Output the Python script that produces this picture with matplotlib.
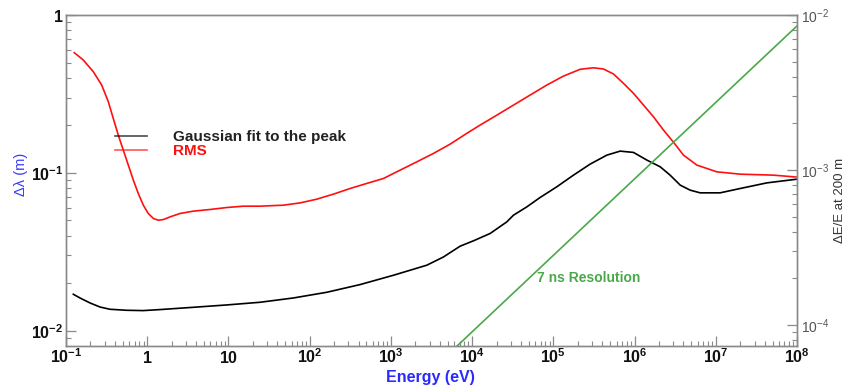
import matplotlib
matplotlib.use("Agg")
import matplotlib.pyplot as plt
from matplotlib.ticker import FixedLocator, LogLocator, FuncFormatter, NullFormatter
import numpy as np

plt.rcParams['font.family'] = ['Liberation Sans', 'DejaVu Sans']
plt.rcParams['mathtext.fontset'] = 'custom'
plt.rcParams['mathtext.rm'] = 'Liberation Sans'
plt.rcParams['mathtext.bf'] = 'Liberation Sans:bold'

# RMS width of the peak (m) vs energy (eV)
rms_energy = [0.1265, 0.163, 0.217, 0.275, 0.332, 0.382, 0.441, 0.508, 0.585, 0.675,
              0.776, 0.895, 1.03, 1.19, 1.37, 1.58, 1.91, 2.54, 3.70, 5.93,
              9.53, 15.2, 24.5, 47.4, 76.2, 122, 196, 315, 505, 809,
              1298, 2084, 3337, 5358, 8610, 12540, 20140, 32270, 51800, 83200,
              133000, 214000, 312000, 414000, 550000, 730000, 970000, 1.29e6, 1.71e6, 2.27e6,
              3.01e6, 4.0e6, 5.85e6, 1.03e7, 2.0e7, 5.14e7, 1e8]
rms_width = [0.577, 0.519, 0.437, 0.360, 0.282, 0.221, 0.173, 0.139, 0.112, 0.0899,
             0.074, 0.0624, 0.0553, 0.0514, 0.0501, 0.0506, 0.0526, 0.0553, 0.0572, 0.0586,
             0.0603, 0.0615, 0.0615, 0.0624, 0.0645, 0.0681, 0.0733, 0.0796, 0.0857, 0.0921,
             0.104, 0.1174, 0.1327, 0.152, 0.178, 0.2007, 0.232, 0.2686, 0.311, 0.360,
             0.410, 0.453, 0.463, 0.455, 0.423, 0.369, 0.319, 0.2686, 0.2265, 0.1866,
             0.1566, 0.1295, 0.112, 0.1015, 0.0981, 0.0967, 0.094]

# Gaussian fit to the peak (m) vs energy (eV)
gauss_energy = [0.123, 0.1487, 0.1976, 0.262, 0.348, 0.559, 0.895, 1.44, 3.70, 9.53,
                24.5, 63, 162, 418, 1074, 2770, 4430, 7110, 10380, 16670,
                26730, 32270, 47200, 68700, 110000, 177000, 284000, 456000, 665000, 970000,
                1.42e6, 2.07e6, 2.74e6, 3.65e6, 4.84e6, 6.43e6, 1.13e7, 2.0e7, 4.26e7, 1e8]
gauss_width = [0.01702, 0.01612, 0.01499, 0.01413, 0.01367, 0.01347, 0.01341, 0.01361, 0.01407, 0.01456,
               0.01514, 0.01612, 0.01751, 0.01960, 0.02245, 0.0260, 0.0293, 0.0343, 0.0371, 0.0413,
               0.0489, 0.0539, 0.0609, 0.0698, 0.0815, 0.0967, 0.1136, 0.1295, 0.1373, 0.1347,
               0.1204, 0.1092, 0.0967, 0.0836, 0.0777, 0.0747, 0.0747, 0.0796, 0.0864, 0.0912]

# 7 ns timing resolution, dE/E at 200 m
res_energy = [6530, 1e8]
res_dee = [7.3e-5, 8.5e-3]

x_exps = [-1, 0, 1, 2, 3, 4, 5, 6, 7, 8]
gray = '#8a8a8a'


def x_label(v, pos):
    n = int(round(np.log10(v)))
    if n == 0:
        return r'$\mathbf{1}$'
    if n == 1:
        return r'$\mathbf{10}$'
    return r'$\mathbf{10^{%d}}$' % n


def yl_label(v, pos):
    n = int(round(np.log10(v)))
    if n == 0:
        return r'$\mathbf{1}$'
    return r'$\mathbf{10^{%d}}$' % n


def yr_label(v, pos):
    n = int(round(np.log10(v)))
    return r'$\mathregular{10^{%d}}$' % n


fig = plt.figure(figsize=(8.51, 3.85), dpi=100)
ax = fig.add_axes([66 / 851, 39 / 385, 731 / 851, 331 / 385])
ax2 = ax.twinx()

l1, = ax.plot(gauss_energy, gauss_width, color='black', lw=1.2)
l2, = ax.plot(rms_energy, rms_width, color='#ff1010', lw=1.2)
ax2.plot(res_energy, res_dee, color='#4aa84a', lw=1.2)

ax.set_xscale('log')
ax.set_yscale('log')
ax2.set_yscale('log')
ax.set_xlim(0.1, 1e8)
ax.set_ylim(0.008, 1)
ax2.set_ylim(7.3e-5, 1e-2)

ax.xaxis.set_major_locator(FixedLocator([10.0 ** e for e in x_exps]))
ax.xaxis.set_minor_locator(LogLocator(base=10, subs=np.arange(2, 10), numticks=30))
ax.xaxis.set_major_formatter(FuncFormatter(x_label))
ax.xaxis.set_minor_formatter(NullFormatter())

ax.yaxis.set_major_locator(FixedLocator([0.01, 0.1, 1]))
ax.yaxis.set_minor_locator(LogLocator(base=10, subs=np.arange(2, 10), numticks=30))
ax.yaxis.set_major_formatter(FuncFormatter(yl_label))
ax.yaxis.set_minor_formatter(NullFormatter())

ax2.yaxis.set_major_locator(FixedLocator([1e-4, 1e-3, 1e-2]))
ax2.yaxis.set_minor_locator(LogLocator(base=10, subs=np.arange(2, 10), numticks=30))
ax2.yaxis.set_major_formatter(FuncFormatter(yr_label))
ax2.yaxis.set_minor_formatter(NullFormatter())

for a in (ax, ax2):
    for s in a.spines.values():
        s.set_color(gray)
        s.set_linewidth(1.0)
    a.tick_params(which='major', direction='in', length=7, width=0.9, color=gray)
    a.tick_params(which='minor', direction='in', length=3.5, width=0.8, color=gray)

ax.tick_params(axis='x', which='both', top=False, labelsize=11.5, pad=12, labelcolor='#111111')
ax.tick_params(axis='y', which='both', right=False, labelsize=11.5, pad=2, labelcolor='#111111')
ax2.tick_params(axis='y', which='both', labelsize=10, pad=3, labelcolor='#555555')
for lab in ax.get_xticklabels():
    lab.set_verticalalignment('baseline')

ax.set_xlabel('Energy (eV)', color='#2a2aff', fontsize=11.5, fontweight='bold')
ax.xaxis.set_label_coords(0.498, -0.072)
ax.set_ylabel('Δλ (m)', color='#3a3aff', fontsize=10.5)
ax.yaxis.set_label_coords(-0.052, 0.517)
ax2.set_ylabel('ΔE/E at 200 m', color='#333333', fontsize=9.5)
ax2.yaxis.set_label_coords(1.051, 0.441)

leg = ax.legend([l1, l2], ['Gaussian fit to the peak', 'RMS'], loc='upper left',
                bbox_to_anchor=(115 / 851, 1 - 130 / 385), bbox_transform=fig.transFigure,
                frameon=False, borderpad=0, borderaxespad=0, handlelength=2.1,
                handletextpad=1.7, labelspacing=0.0,
                prop={'weight': 'bold', 'size': 11})
for txt, c in zip(leg.get_texts(), ['#222222', '#ff1010']):
    txt.set_color(c)
for h in leg.legend_handles:
    h.set_alpha(0.7)

ax2.text(6.3e4, 2.0e-4, '7 ns Resolution', color='#4aa84a', fontsize=10, fontweight='bold',
         ha='left', va='center')

fig.savefig('out.png', dpi=100)
